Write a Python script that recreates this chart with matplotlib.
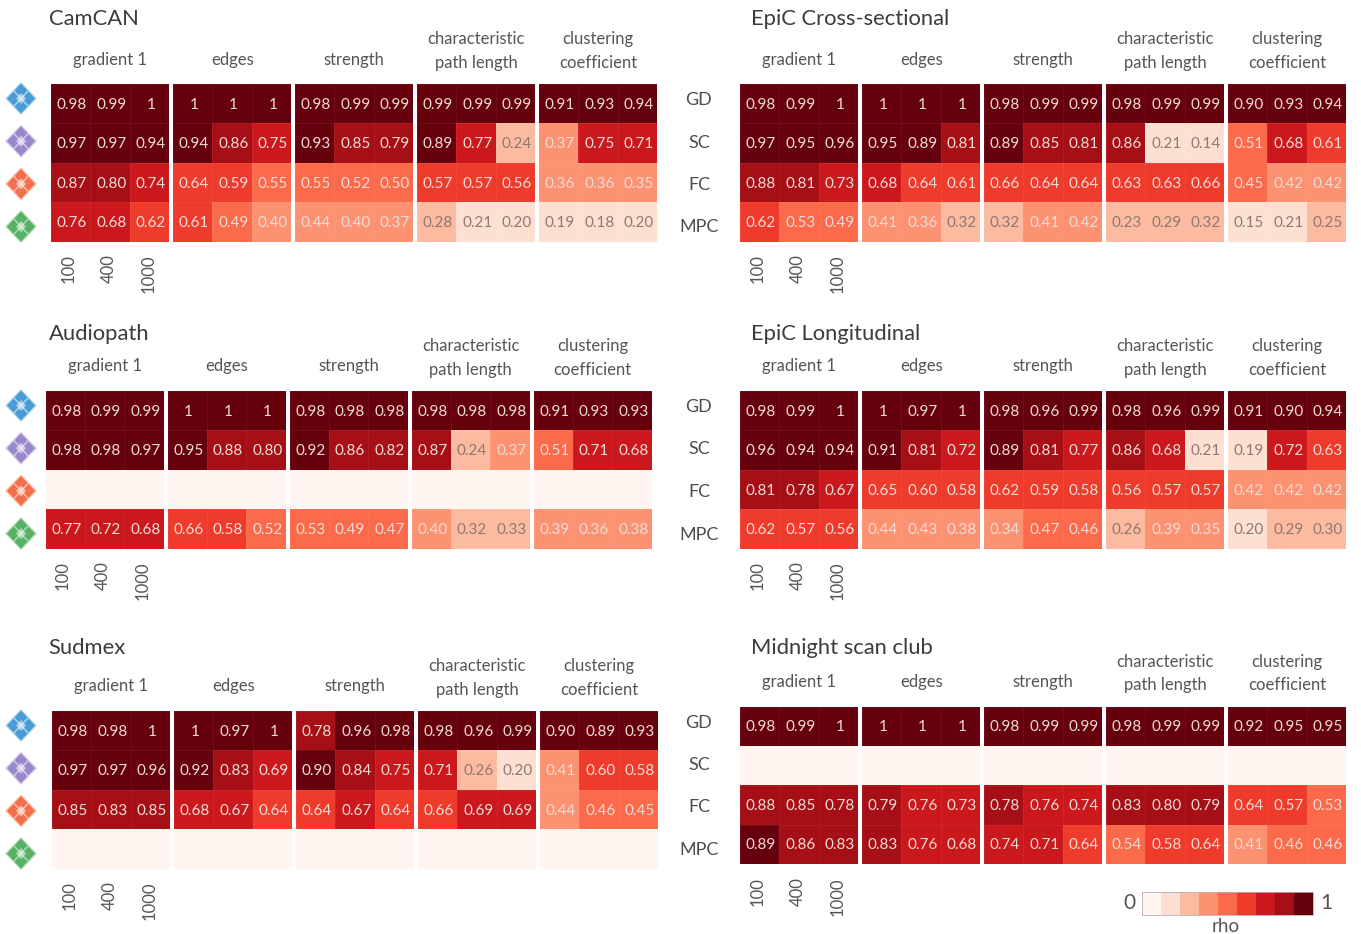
import numpy as np
import matplotlib
matplotlib.use("Agg")
import matplotlib.pyplot as plt
from matplotlib.colors import ListedColormap, BoundaryNorm
from matplotlib.cm import ScalarMappable

W, H = 1361, 934
plt.rcParams["font.family"] = ["Lato", "DejaVu Sans"]

n = np.nan
empty = [n] * 15

camcan = [
    [.98, .99, 1, 1, 1, 1, .98, .99, .99, .99, .99, .99, .91, .93, .94],
    [.97, .97, .94, .94, .86, .75, .93, .85, .79, .89, .77, .24, .37, .75, .71],
    [.87, .80, .74, .64, .59, .55, .55, .52, .50, .57, .57, .56, .36, .36, .35],
    [.76, .68, .62, .61, .49, .40, .44, .40, .37, .28, .21, .20, .19, .18, .20],
]
epic_cross = [
    [.98, .99, 1, 1, 1, 1, .98, .99, .99, .98, .99, .99, .90, .93, .94],
    [.97, .95, .96, .95, .89, .81, .89, .85, .81, .86, .21, .14, .51, .68, .61],
    [.88, .81, .73, .68, .64, .61, .66, .64, .64, .63, .63, .66, .45, .42, .42],
    [.62, .53, .49, .41, .36, .32, .32, .41, .42, .23, .29, .32, .15, .21, .25],
]
audiopath = [
    [.98, .99, .99, 1, 1, 1, .98, .98, .98, .98, .98, .98, .91, .93, .93],
    [.98, .98, .97, .95, .88, .80, .92, .86, .82, .87, .24, .37, .51, .71, .68],
    empty,
    [.77, .72, .68, .66, .58, .52, .53, .49, .47, .40, .32, .33, .39, .36, .38],
]
epic_long = [
    [.98, .99, 1, 1, .97, 1, .98, .96, .99, .98, .96, .99, .91, .90, .94],
    [.96, .94, .94, .91, .81, .72, .89, .81, .77, .86, .68, .21, .19, .72, .63],
    [.81, .78, .67, .65, .60, .58, .62, .59, .58, .56, .57, .57, .42, .42, .42],
    [.62, .57, .56, .44, .43, .38, .34, .47, .46, .26, .39, .35, .20, .29, .30],
]
sudmex = [
    [.98, .98, 1, 1, .97, 1, .78, .96, .98, .98, .96, .99, .90, .89, .93],
    [.97, .97, .96, .92, .83, .69, .90, .84, .75, .71, .26, .20, .41, .60, .58],
    [.85, .83, .85, .68, .67, .64, .64, .67, .64, .66, .69, .69, .44, .46, .45],
    empty,
]
midnight = [
    [.98, .99, 1, 1, 1, 1, .98, .99, .99, .98, .99, .99, .92, .95, .95],
    empty,
    [.88, .85, .78, .79, .76, .73, .78, .76, .74, .83, .80, .79, .64, .57, .53],
    [.89, .86, .83, .83, .76, .68, .74, .71, .64, .54, .58, .64, .41, .46, .46],
]

measures = ["gradient 1", "edges", "strength", "characteristic\npath length", "clustering\ncoefficient"]
parcels = ["100", "400", "1000"]
modalities = ["GD", "SC", "FC", "MPC"]
reds = ["#fff5f0", "#fee0d2", "#fcbba1", "#fc9272", "#fb6a4a", "#ef3b2c", "#cb181d", "#a50f15", "#67000d"]

cmap = ListedColormap(reds)
cmap.set_bad(reds[0])
norm = BoundaryNorm(np.linspace(0, 1, 10), cmap.N)

fig = plt.figure(figsize=(W / 100, H / 100), dpi=100)


def px_axes(x0, y0, x1, y1):
    # axes from pixel box, y counted from the top
    return fig.add_axes([x0 / W, 1 - y1 / H, (x1 - x0) / W, (y1 - y0) / H])


# one overlay in pixels for all the loose text and the icons
over = px_axes(0, 0, W, H)
over.set_xlim(0, W)
over.set_ylim(H, 0)
over.axis("off")


def draw_panel(values, title, tx, ty, x0, y0, side="icons"):
    values = np.array(values, dtype=float)
    bw, bh, gap = 118.4, 157.5, 3.6
    for b in range(5):
        bx = x0 + b * (bw + gap)
        ax = px_axes(bx, y0, bx + bw, y0 + bh)
        block = values[:, b * 3:b * 3 + 3]
        ax.pcolormesh(block, cmap=cmap, norm=norm, edgecolors=(1, 1, 1, 0.06), linewidth=0.6)
        ax.set_ylim(4, 0)
        ax.axis("off")
        for r in range(4):
            for c in range(3):
                v = block[r, c]
                if np.isnan(v):
                    continue
                s = "1" if v == 1 else f"{v:.2f}"
                col = "#8f7870" if v < 1 / 3 else "#f0dcd6"
                ax.text(c + 0.53, r + 0.53, s, ha="center", va="center", fontsize=11, color=col)
        head = measures[b]
        over.text(bx + bw / 2, y0 - 33 if "\n" in head else y0 - 24.5, head, ha="center",
                  va="center", fontsize=12, color="#555555", linespacing=1.6)
    for i, p in enumerate(parcels):
        over.text(x0 + 17.5 + i * 40, y0 + bh + 13, p, rotation=90, ha="center", va="top",
                  fontsize=12, color="#555555")
    over.text(tx, ty + 2, title, ha="left", va="center", fontsize=15.8, color="#3c3c3c")
    if side == "labels":
        for r, m in enumerate(modalities):
            over.text(699, y0 + 16 + r * 42.5, m, ha="center", va="center", fontsize=13, color="#4d4d4d")


def draw_icon(cx, cy, dark, light):
    over.fill([cx - 16, cx, cx + 16, cx], [cy, cy - 16.5, cy, cy + 16.5], color=light, lw=0)
    for dx, dy in [(-7.5, 0), (7.5, 0), (0, -8), (0, 8)]:
        over.fill([cx + dx - 6.5, cx + dx, cx + dx + 6.5, cx + dx],
                  [cy + dy, cy + dy - 7, cy + dy, cy + dy + 7], color=dark, lw=0)
    over.fill([cx - 5, cx, cx + 5, cx], [cy, cy - 5.5, cy, cy + 5.5], color="white", alpha=0.55, lw=0)


draw_panel(camcan, "CamCAN", 49, 17, 51, 84)
draw_panel(epic_cross, "EpiC Cross-sectional", 751, 17, 740, 84, "labels")
draw_panel(audiopath, "Audiopath", 49, 332, 45.5, 391)
draw_panel(epic_long, "EpiC Longitudinal", 751, 332, 740, 391, "labels")
draw_panel(sudmex, "Sudmex", 48, 646, 52, 711)
draw_panel(midnight, "Midnight scan club", 751, 646, 740, 706.5, "labels")

icon_dark = ["#4a9ad4", "#9a88cc", "#f4704c", "#55b266"]
icon_light = ["#b4d9f0", "#d6cdea", "#fcc3ac", "#b2ddb4"]
for y0 in [84, 391, 711]:
    for r in range(4):
        draw_icon(21, y0 + 14.5 + r * 42.7, icon_dark[r], icon_light[r])

# binned colour key
cax = px_axes(1142, 892, 1313, 915)
cb = fig.colorbar(ScalarMappable(norm=norm, cmap=cmap), cax=cax, orientation="horizontal", ticks=[])
cb.minorticks_off()
cb.outline.set_edgecolor("#b8b0ae")
cb.outline.set_linewidth(0.6)
over.text(1129, 903, "0", ha="center", va="center", fontsize=15, color="#555555")
over.text(1326, 903, "1", ha="center", va="center", fontsize=15, color="#555555")
over.text(1226, 927, "rho", ha="center", va="center", fontsize=13.5, color="#555555")

fig.savefig("out.png", dpi=100)
